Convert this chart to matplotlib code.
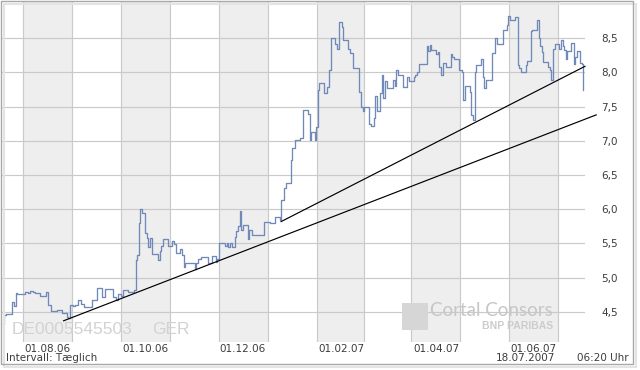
import matplotlib
matplotlib.use("Agg")
import matplotlib.pyplot as plt
import pandas as pd
from matplotlib.patches import Rectangle

# ==== data (days since 01.07.2006, price in EUR)
start = pd.Timestamp("2006-07-01")

day = [3, 4, 5, 9, 10, 11, 12, 17, 19, 20, 22, 23, 26, 30, 31, 33, 37, 40, 43, 44,
       45, 47, 48, 50, 52, 54, 59, 62, 65, 67, 72, 74, 75, 77, 78, 81, 85, 86, 87, 88,
       89, 90, 92, 93, 94, 95, 96, 100, 101, 102, 103, 106, 109, 110, 111, 114, 115, 116, 117, 123,
       124, 125, 127, 131, 134, 136, 137, 138, 142, 143, 144, 145, 146, 148, 149, 150, 151, 152, 153, 156,
       157, 159, 166, 170, 173, 176, 177, 179, 180, 183, 184, 186, 189, 191, 194, 195, 196, 198, 199, 200,
       201, 204, 206, 207, 208, 211, 212, 213, 215, 216, 219, 220, 222, 226, 227, 228, 229, 232, 233, 235,
       236, 237, 239, 240, 241, 242, 243, 247, 248, 249, 250, 253, 256, 257, 260, 261, 262, 263, 268, 269,
       270, 271, 274, 275, 276, 277, 278, 280, 283, 284, 285, 288, 290, 291, 292, 295, 296, 297, 298, 299,
       302, 303, 304, 305, 309, 311, 312, 316, 318, 319, 320, 323, 325, 326, 327, 330, 331, 333, 334, 337,
       338, 339, 340, 341, 344, 345, 346, 347, 348, 351, 352, 353, 354, 355, 356, 358, 360, 361, 362, 364,
       365, 366]

price = [4.32, 4.45, 4.47, 4.64, 4.58, 4.77, 4.76, 4.79, 4.77, 4.81, 4.79, 4.77, 4.73, 4.79, 4.60, 4.51, 4.53, 4.48, 4.43, 4.41,
         4.60, 4.58, 4.60, 4.67, 4.61, 4.57, 4.68, 4.85, 4.72, 4.83, 4.72, 4.67, 4.76, 4.73, 4.82, 4.79, 4.82, 5.26, 5.33, 5.80,
         6.01, 5.94, 5.66, 5.58, 5.45, 5.58, 5.34, 5.26, 5.39, 5.46, 5.57, 5.47, 5.54, 5.49, 5.36, 5.42, 5.33, 5.16, 5.21, 5.12,
         5.22, 5.28, 5.30, 5.22, 5.32, 5.23, 5.28, 5.50, 5.46, 5.50, 5.45, 5.50, 5.45, 5.60, 5.68, 5.76, 5.97, 5.70, 5.77, 5.57,
         5.70, 5.62, 5.81, 5.80, 5.88, 5.84, 6.14, 6.31, 6.38, 6.72, 6.90, 7.01, 7.04, 7.45, 7.40, 7.01, 7.13, 7.01, 7.20, 7.74,
         7.84, 7.70, 7.79, 8.04, 8.50, 8.41, 8.35, 8.74, 8.67, 8.48, 8.34, 8.28, 8.06, 7.72, 7.50, 7.43, 7.50, 7.25, 7.22, 7.33,
         7.66, 7.43, 7.70, 7.97, 7.62, 7.87, 7.77, 7.89, 7.80, 8.03, 7.96, 7.79, 7.94, 7.88, 7.93, 7.96, 8.01, 8.12, 8.39, 8.31,
         8.40, 8.33, 8.27, 8.30, 8.08, 7.96, 8.14, 8.08, 8.27, 8.22, 8.19, 8.04, 8.01, 7.60, 7.80, 7.72, 7.38, 7.30, 8.01, 8.11,
         8.19, 7.94, 7.78, 7.89, 8.29, 8.50, 8.42, 8.62, 8.69, 8.83, 8.76, 8.81, 8.11, 8.06, 8.00, 8.11, 8.17, 8.60, 8.62, 8.76,
         8.50, 8.39, 8.30, 8.16, 8.08, 8.03, 7.89, 8.35, 8.42, 8.35, 8.48, 8.38, 8.33, 8.19, 8.32, 8.43, 8.13, 8.22, 8.32, 8.14,
         8.12, 7.75]

# trend lines (start / end)
trend_low_day = [41, 374]
trend_low = [4.37, 7.38]
trend_high_day = [177, 367]
trend_high = [5.82, 8.09]

y_ticks = [4.5, 5.0, 5.5, 6.0, 6.5, 7.0, 7.5, 8.0, 8.5]
label_months = ["2006-08-01", "2006-10-01", "2006-12-01", "2007-02-01", "2007-04-01", "2007-06-01"]
x_range = [2.5, 367]
y_range = [4.06, 9.03]

W, H = 640, 370


def px(x, y):
	return x / W, 1 - y / H


fig = plt.figure(figsize=(6.4, 3.7), dpi=100)
ax = fig.add_axes([2 / W, 1 - 342 / H, 583 / W, 340 / H])
ax.set_xlim(x_range)
ax.set_ylim(y_range)

# ==== month bands and grid
months = pd.date_range("2006-06-01", "2007-08-01", freq="MS")
offs = [(m - start).days for m in months]
mids = [(a + b) / 2 for a, b in zip(offs[:-1], offs[1:])]

for m in label_months:
	i = list(months).index(pd.Timestamp(m))
	ax.axvspan(mids[i - 1], mids[i], color="#eeeeee", lw=0, zorder=0)
for x in mids:
	ax.axvline(x, color="#cacaca", lw=0.85, zorder=1)
for y in y_ticks:
	ax.axhline(y, color="#cacaca", lw=0.85, zorder=1)

# ==== series
ax.step(day, price, where="post", color="#7189b8", lw=0.95, zorder=3)
ax.plot(trend_low_day, trend_low, color="black", lw=0.85, zorder=4, clip_on=False)
ax.plot(trend_high_day, trend_high, color="black", lw=0.85, zorder=4, clip_on=False)

for s in ax.spines.values():
	s.set_visible(False)

ax.set_xticks([(pd.Timestamp(m) - start).days for m in label_months])
ax.set_xticklabels([pd.Timestamp(m).strftime("%d.%m.%y") for m in label_months])
ax.yaxis.tick_right()
ax.set_yticks(y_ticks)
ax.set_yticklabels([f"{v:.1f}".replace(".", ",") for v in y_ticks])
ax.tick_params(axis="x", length=0, pad=1.5, labelsize=7.5, labelcolor="#3c3c3c")
ax.tick_params(axis="y", length=0, pad=11.5, labelsize=7.5, labelcolor="#3c3c3c")

# ==== texts
fig.text(*px(12, 330), "DE0005545503", family="Liberation Sans", fontsize=12.5,
	color="#d2d2d2", va="center", ha="left")
fig.text(*px(152, 330), "GER", family="Liberation Sans", fontsize=12.5,
	color="#d2d2d2", va="center", ha="left")
fig.text(*px(6, 358), "Intervall: Tæglich", fontsize=7.5, color="#3c3c3c", va="center")
fig.text(*px(555, 358), "18.07.2007", fontsize=7.5, color="#3c3c3c", va="center", ha="right")
fig.text(*px(629, 358), "06:20 Uhr", fontsize=7.5, color="#3c3c3c", va="center", ha="right")

# watermark
fig.patches.append(Rectangle(px(402, 330), 26 / W, 27 / H, transform=fig.transFigure,
	color="#d6d6d6", lw=0, zorder=5))
fig.text(*px(553, 311), "Cortal Consors", family="Lato", fontsize=13.5, color="#c6c6c6",
	va="center", ha="right")
fig.text(*px(553, 326), "BNP PARIBAS", family="Liberation Sans", fontsize=7.5, weight="bold",
	color="#cccccc", va="center", ha="right")

# frame with light shadow
fig.patches.append(Rectangle(px(1, 364), 632 / W, 363 / H, transform=fig.transFigure,
	fill=False, edgecolor="#a8a8a8", lw=1.0, zorder=6))
fig.patches.append(Rectangle(px(4, 367), 632 / W, 363 / H, transform=fig.transFigure,
	fill=False, edgecolor="#e4e4e4", lw=1.5, zorder=0))

fig.savefig("out.png", dpi=100)
